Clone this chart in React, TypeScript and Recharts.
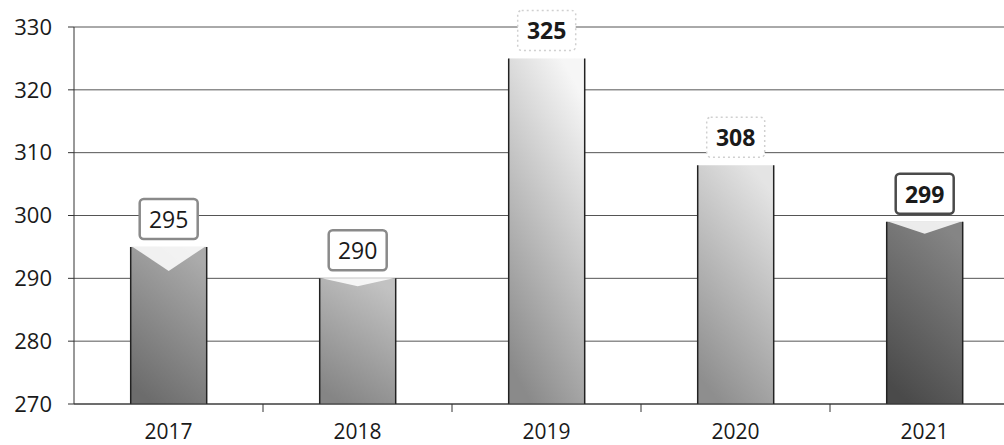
import { BarChart, Bar, XAxis, YAxis, CartesianGrid, LabelList } from 'recharts'

const years = ['2017', '2018', '2019', '2020', '2021']
const values = [295, 290, 325, 308, 299]
const yTicks = [270, 280, 290, 300, 310, 320, 330]

// per-bar look, not data
const topColors = ['#ababab', '#c2c2c2', '#f6f6f6', '#e4e4e4', '#858585']
const bottomColors = ['#6c6c6c', '#858585', '#8a8a8a', '#8e8e8e', '#4a4a4a']
const notchDepth = [24, 8, 0, 0, 12]
const boldLabel = [false, false, true, true, true]
const boxStroke = ['#8a8a8a', '#8a8a8a', '#d0d0d0', '#d0d0d0', '#4a4a4a']

const data = years.map((year, i) => ({ year, value: values[i] }))

const FONT = '"Open Sans", "Noto Sans", sans-serif'

function BarShape(props: any) {
  const { x, y, width, height, index } = props
  const d = notchDepth[index]
  return (
    <g>
      <rect x={x} y={y} width={width} height={height} fill={`url(#barGrad${index})`} />
      {d > 0 && (
        <polygon
          points={`${x + 2},${y} ${x + width / 2},${y + d} ${x + width - 2},${y}`}
          fill="#ffffff"
          fillOpacity={0.85}
        />
      )}
      <line x1={x} y1={y} x2={x} y2={y + height} stroke="#222" strokeWidth={1.5} />
      <line x1={x + width} y1={y} x2={x + width} y2={y + height} stroke="#222" strokeWidth={1.5} />
    </g>
  )
}

function ValueBox(props: any) {
  const { x, y, width, value, index } = props
  const cx = x + width / 2
  const cy = y - 28
  const bold = boldLabel[index]
  const faint = index === 2 || index === 3
  return (
    <g>
      <rect
        x={cx - 29}
        y={cy - 20}
        width={58}
        height={40}
        rx={4}
        fill="#fff"
        stroke={boxStroke[index]}
        strokeWidth={faint ? 1.5 : 2.5}
        strokeDasharray={faint ? '2 3' : undefined}
      />
      <text
        x={cx}
        y={cy}
        textAnchor="middle"
        dominantBaseline="central"
        fontFamily={FONT}
        fontSize={23}
        fontWeight={bold ? 700 : 400}
        fill="#1a1a1a"
      >
        {value}
      </text>
    </g>
  )
}

function YearTick(props: any) {
  const { x, y, payload, index } = props
  const off = payload?.offset ?? 94.5
  return (
    <g>
      {index < years.length - 1 && (
        <line x1={x + off} y1={y} x2={x + off} y2={y + 8} stroke="#333" strokeWidth={1} />
      )}
      <text
        x={x}
        y={y + 27}
        textAnchor="middle"
        dominantBaseline="central"
        fontFamily={FONT}
        fontSize={21}
        fill="#1a1a1a"
      >
        {payload.value}
      </text>
    </g>
  )
}

export default function App() {
  return (
    <div
      style={{
        position: 'fixed',
        left: 0,
        top: 0,
        width: 1004,
        height: 445,
        overflow: 'hidden',
        background: '#fff',
      }}
    >
      <BarChart
        width={1019}
        height={445}
        data={data}
        margin={{ top: 27, right: 0, bottom: 0, left: 0 }}
        barCategoryGap="30%"
      >
        <defs>
          {years.map((_, i) => (
            <linearGradient key={i} id={`barGrad${i}`} x1="0.7" y1="0" x2="0.3" y2="1">
              <stop offset="0%" stopColor={topColors[i]} />
              <stop offset="100%" stopColor={bottomColors[i]} />
            </linearGradient>
          ))}
        </defs>
        <CartesianGrid vertical={false} stroke="#555" strokeWidth={1} />
        <XAxis
          dataKey="year"
          height={41}
          axisLine={{ stroke: '#333', strokeWidth: 1 }}
          tickLine={false}
          tickSize={0}
          tickMargin={0}
          interval={0}
          tick={<YearTick />}
        />
        <YAxis
          width={74}
          domain={[270, 330]}
          ticks={yTicks}
          allowDataOverflow
          axisLine={{ stroke: '#333', strokeWidth: 1 }}
          tickLine={{ stroke: '#333' }}
          tickSize={6}
          tickMargin={16}
          tick={{ fontFamily: FONT, fontSize: 22, fill: '#1a1a1a' }}
        />
        <Bar dataKey="value" shape={<BarShape />} isAnimationActive={false}>
          <LabelList dataKey="value" content={<ValueBox />} />
        </Bar>
      </BarChart>
    </div>
  )
}
